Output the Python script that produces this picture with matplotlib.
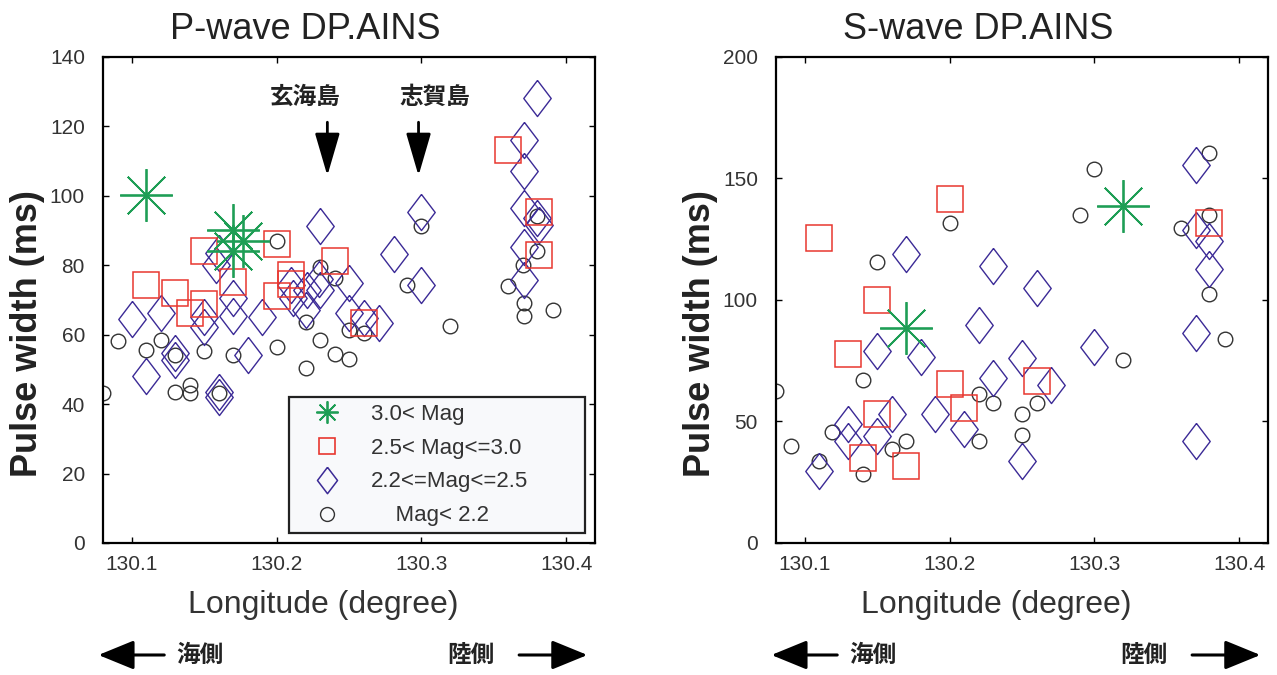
import matplotlib
matplotlib.use("Agg")
import matplotlib.pyplot as plt
from matplotlib.lines import Line2D

plt.rcParams['font.family'] = ['Liberation Sans', 'Noto Sans CJK JP', 'DejaVu Sans']
CJK = ['Noto Sans CJK JP', 'DejaVu Sans']

# colours of the four magnitude groups
C_STAR = '#1E9E55'
C_SQ = '#E8372F'
C_DIA = '#3B2A96'
C_CIR = '#333333'

# ---- P-wave data (longitude, pulse width ms) ----
p_star_lon = [130.110, 130.170, 130.177, 130.170]
p_star_pw = [100.3, 90.3, 87.0, 84.0]

p_sq_lon = [130.110, 130.130, 130.140, 130.150, 130.150, 130.170, 130.200, 130.200,
            130.210, 130.210, 130.240, 130.260, 130.360, 130.381, 130.381]
p_sq_pw = [74.2, 72.0, 66.2, 68.8, 84.1, 75.1, 86.1, 71.2,
           77.1, 74.5, 81.1, 63.4, 113.2, 95.2, 83.0]

p_dia_lon = [130.100, 130.120, 130.110, 130.130, 130.130, 130.150, 130.150, 130.160,
             130.160, 130.160, 130.158, 130.170, 130.170, 130.180, 130.190, 130.210,
             130.211, 130.220, 130.221, 130.230, 130.229, 130.230, 130.250, 130.250,
             130.260, 130.271, 130.281, 130.300, 130.300, 130.380, 130.371, 130.371,
             130.371, 130.380, 130.381, 130.371, 130.371]
p_dia_pw = [64.5, 66.3, 48.0, 54.7, 52.8, 65.0, 62.3, 43.5,
            42.0, 83.5, 80.0, 70.5, 65.5, 54.2, 65.1, 74.4,
            70.6, 67.2, 73.0, 73.0, 76.0, 91.2, 74.9, 66.3,
            64.8, 63.4, 83.3, 95.2, 74.4, 128.2, 116.2, 107.1,
            96.5, 93.6, 91.5, 85.4, 75.8]

p_cir_lon = [130.090, 130.110, 130.120, 130.130, 130.150, 130.170, 130.200, 130.080,
             130.130, 130.140, 130.140, 130.160, 130.220, 130.220, 130.230, 130.240,
             130.250, 130.250, 130.260, 130.200, 130.230, 130.240, 130.290, 130.300,
             130.320, 130.360, 130.370, 130.371, 130.371, 130.380, 130.380, 130.391]
p_cir_pw = [58.1, 55.5, 58.6, 54.2, 55.2, 54.2, 56.5, 43.2,
            43.4, 45.6, 43.2, 43.2, 50.5, 63.6, 58.4, 54.4,
            53.0, 61.3, 60.5, 87.0, 79.5, 76.3, 74.2, 91.2,
            62.4, 74.1, 80.2, 69.1, 65.3, 94.3, 84.0, 67.2]

# ---- S-wave data ----
s_star_lon = [130.170, 130.320]
s_star_pw = [88.5, 138.7]

s_sq_lon = [130.110, 130.200, 130.150, 130.130, 130.200, 130.210, 130.150, 130.140,
            130.170, 130.260, 130.379]
s_sq_pw = [125.6, 141.7, 99.8, 77.8, 65.5, 55.6, 52.9, 35.0,
           31.6, 66.6, 131.8]

s_dia_lon = [130.170, 130.230, 130.150, 130.180, 130.220, 130.230, 130.190, 130.210,
             130.160, 130.130, 130.130, 130.150, 130.110, 130.260, 130.250, 130.270,
             130.250, 130.300, 130.370, 130.370, 130.379, 130.379, 130.370, 130.370]
s_dia_pw = [119.0, 114.0, 78.9, 76.5, 89.9, 68.0, 52.9, 46.7,
            52.9, 48.8, 42.0, 43.9, 29.8, 104.8, 76.2, 65.2,
            33.9, 80.6, 155.5, 129.0, 124.2, 112.6, 86.5, 41.9]

s_cir_lon = [130.200, 130.150, 130.140, 130.080, 130.220, 130.230, 130.220, 130.119,
             130.090, 130.110, 130.140, 130.160, 130.170, 130.300, 130.290, 130.379,
             130.379, 130.360, 130.379, 130.390, 130.320, 130.260, 130.250, 130.250]
s_cir_pw = [131.5, 115.7, 66.9, 62.5, 61.1, 57.7, 41.9, 45.7,
            39.8, 33.6, 28.4, 38.5, 41.9, 153.8, 135.0, 160.6,
            135.0, 129.7, 102.5, 83.8, 75.5, 57.7, 52.9, 44.6]

legend_labels = ['3.0< Mag', '2.5< Mag<=3.0', '2.2<=Mag<=2.5', '    Mag< 2.2']

ASTER = (8, 2, 0)
DIAMOND = [(0, 1), (0.76, 0), (0, -1), (-0.76, 0), (0, 1)]


def draw_panel(ax, star, sq, dia, cir, ymax, yticks, title):
    ax.plot(cir[0], cir[1], ls='none', marker='o', ms=10.5, mfc='none', mec=C_CIR, mew=1.0)
    ax.plot(dia[0], dia[1], ls='none', marker=DIAMOND, ms=26, mfc='none', mec=C_DIA, mew=1.0)
    ax.plot(sq[0], sq[1], ls='none', marker='s', ms=19, mfc='none', mec=C_SQ, mew=1.1)
    ax.plot(star[0], star[1], ls='none', marker=ASTER, ms=38, mfc='none', mec=C_STAR, mew=1.3)

    ax.set_xlim(130.08, 130.42)
    ax.set_ylim(0, ymax)
    ax.set_xticks([130.1, 130.2, 130.3, 130.4])
    ax.set_xticklabels(['130.1', '130.2', '130.3', '130.4'])
    ax.set_yticks(yticks)
    ax.tick_params(direction='in', length=4, width=1, top=True, right=True,
                   labelsize=15, labelcolor='#333333')
    ax.tick_params(axis='y', pad=13)
    ax.tick_params(axis='x', pad=9)
    for sp in ax.spines.values():
        sp.set_linewidth(1.6)

    ax.set_title(title, fontsize=26, x=0.41, pad=13, color='#222222')
    ax.set_xlabel('Longitude (degree)', fontsize=23, color='#333333')
    ax.xaxis.set_label_coords(0.447, -0.097)
    ax.set_ylabel('Pulse width (ms)', fontsize=26, fontweight='bold', color='#222222')
    ax.yaxis.set_label_coords(-0.118, 0.43)

    # sea side / land side arrows below the axis
    ax.annotate('', xy=(-0.015, -0.2305), xytext=(0.13, -0.2305),
                xycoords='axes fraction', annotation_clip=False,
                arrowprops=dict(arrowstyle='-|>,head_width=0.45,head_length=1.1',
                                mutation_scale=20, lw=2.2, color='black'))
    ax.text(0.148, -0.2305, '海側', transform=ax.transAxes, fontsize=17,
            family=CJK, fontweight='bold', va='center', ha='left', color='#222222')
    ax.text(0.70, -0.2305, '陸側', transform=ax.transAxes, fontsize=17,
            family=CJK, fontweight='bold', va='center', ha='left', color='#222222')
    ax.annotate('', xy=(0.99, -0.2305), xytext=(0.84, -0.2305),
                xycoords='axes fraction', annotation_clip=False,
                arrowprops=dict(arrowstyle='-|>,head_width=0.45,head_length=1.1',
                                mutation_scale=20, lw=2.2, color='black'))


fig = plt.figure(figsize=(12.77, 6.75), dpi=100)
ax1 = fig.add_axes([0.0807, 0.1956, 0.3853, 0.72])
ax2 = fig.add_axes([0.6077, 0.1956, 0.3853, 0.72])

draw_panel(ax1, (p_star_lon, p_star_pw), (p_sq_lon, p_sq_pw), (p_dia_lon, p_dia_pw),
           (p_cir_lon, p_cir_pw), 140, [0, 20, 40, 60, 80, 100, 120, 140], 'P-wave DP.AINS')
draw_panel(ax2, (s_star_lon, s_star_pw), (s_sq_lon, s_sq_pw), (s_dia_lon, s_dia_pw),
           (s_cir_lon, s_cir_pw), 200, [0, 50, 100, 150, 200], 'S-wave DP.AINS')

# island markers on the P-wave panel
for name, tx, ax_x in [('玄海島', 130.22, 130.235), ('志賀島', 130.309, 130.298)]:
    ax1.text(tx, 128.6, name, fontsize=17, family=CJK, fontweight='bold',
             ha='center', va='center', color='#222222')
    ax1.annotate('', xy=(ax_x, 105.0), xytext=(ax_x, 122.0),
                 arrowprops=dict(arrowstyle='-|>,head_width=0.35,head_length=1.2',
                                 mutation_scale=22, lw=2.0, color='black'))

handles = [
    Line2D([], [], ls='none', marker=ASTER, ms=16, mfc='none', mec=C_STAR, mew=1.3),
    Line2D([], [], ls='none', marker='s', ms=12, mfc='none', mec=C_SQ, mew=1.2),
    Line2D([], [], ls='none', marker=DIAMOND, ms=19, mfc='none', mec=C_DIA, mew=1.1),
    Line2D([], [], ls='none', marker='o', ms=10, mfc='none', mec=C_CIR, mew=1.0),
]
leg = ax1.legend(handles, legend_labels, loc='lower left', mode='expand',
                 bbox_to_anchor=(0.378, 0.0206, 0.602, 0.278), fontsize=16,
                 borderaxespad=0, borderpad=0.3, labelspacing=0.58,
                 handlelength=2.8, handletextpad=0.6, fancybox=False,
                 framealpha=1, facecolor='#F8F9FB', edgecolor='#222222')
leg.get_frame().set_linewidth(1.6)
for t in leg.get_texts():
    t.set_color('#333333')

fig.savefig('out.png', dpi=100)
